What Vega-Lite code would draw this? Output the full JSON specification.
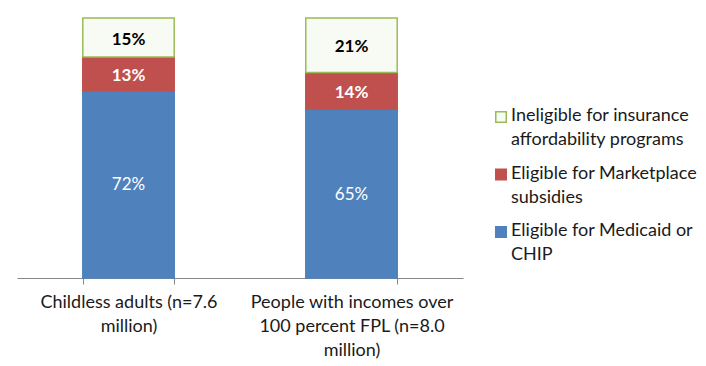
{
  "$schema": "https://vega.github.io/schema/vega-lite/v6.json",
  "width": 446,
  "height": 260,
  "autosize": {"type": "none"},
  "padding": {"left": 17, "top": 18, "right": 243, "bottom": 88},
  "background": "white",
  "config": {
    "view": {"stroke": null},
    "font": "Lato",
    "style": {"guide-label": {"lineHeight": 24}}
  },
  "data": {
    "values": [
      {"group": "Childless adults (n=7.6 million)", "category": "Eligible for Medicaid or CHIP", "value": 72, "ord": 1},
      {"group": "Childless adults (n=7.6 million)", "category": "Eligible for Marketplace subsidies", "value": 13, "ord": 2},
      {"group": "Childless adults (n=7.6 million)", "category": "Ineligible for insurance affordability programs", "value": 15, "ord": 3},
      {"group": "People with incomes over 100 percent FPL (n=8.0 million)", "category": "Eligible for Medicaid or CHIP", "value": 65, "ord": 1},
      {"group": "People with incomes over 100 percent FPL (n=8.0 million)", "category": "Eligible for Marketplace subsidies", "value": 14, "ord": 2},
      {"group": "People with incomes over 100 percent FPL (n=8.0 million)", "category": "Ineligible for insurance affordability programs", "value": 21, "ord": 3}
    ]
  },
  "transform": [
    {"stack": "value", "groupby": ["group"], "sort": [{"field": "ord", "order": "ascending"}], "as": ["v0", "v1"]},
    {"calculate": "(datum.v0 + datum.v1) / 2", "as": "mid"},
    {"calculate": "datum.value + '%'", "as": "lbl"}
  ],
  "encoding": {
    "x": {
      "field": "group", "type": "nominal", "sort": null,
      "scale": {"paddingInner": 0.59, "paddingOuter": 0.295},
      "axis": {
        "title": null,
        "labelAngle": 0,
        "labelFont": "Lato",
        "labelFontSize": 18,
        "labelColor": "#1a1a1a",
        "labelLineHeight": 24,
        "labelPadding": 9,
        "labelBaseline": "top",
        "labelLimit": 400,
        "labelExpr": "datum.value == 'Childless adults (n=7.6 million)' ? ['Childless adults (n=7.6', 'million)'] : datum.value == 'People with incomes over 100 percent FPL (n=8.0 million)' ? ['People with incomes over', '100 percent FPL (n=8.0', 'million)'] : ''",
        "domainColor": "#868686",
        "tickColor": "#868686",
        "tickSize": 6,
        "tickBand": "extent",
        "grid": false
      }
    }
  },
  "layer": [
    {
      "mark": {"type": "bar", "strokeWidth": 1.5},
      "encoding": {
        "y": {"field": "v0", "type": "quantitative", "scale": {"domain": [0, 100]}, "axis": null},
        "y2": {"field": "v1"},
        "fill": {
          "field": "category", "type": "nominal",
          "scale": {
            "domain": ["Ineligible for insurance affordability programs", "Eligible for Marketplace subsidies", "Eligible for Medicaid or CHIP"],
            "range": ["#f8fbf3", "#C0504D", "#4F81BD"]
          },
          "legend": {
            "title": null,
            "orient": "none",
            "legendX": 475,
            "legendY": 90,
            "symbolType": "square",
            "symbolSize": 110,
            "symbolStrokeWidth": 1.5,
            "labelFont": "Lato",
            "labelFontSize": 18,
            "labelColor": "#1a1a1a",
            "labelBaseline": "top",
            "labelOffset": 1,
            "labelLimit": 300,
            "rowPadding": 15.5,
            "encode": {"labels": {"update": {"dy": {"value": -10}}}},
            "labelExpr": "datum.label == 'Ineligible for insurance affordability programs' ? ['Ineligible for insurance', 'affordability programs'] : datum.label == 'Eligible for Marketplace subsidies' ? ['Eligible for Marketplace', 'subsidies'] : ['Eligible for Medicaid or', 'CHIP']"
          }
        },
        "stroke": {
          "field": "category", "type": "nominal",
          "scale": {
            "domain": ["Ineligible for insurance affordability programs", "Eligible for Marketplace subsidies", "Eligible for Medicaid or CHIP"],
            "range": ["#9BBB59", "#C0504D", "#4F81BD"]
          },
          "legend": null
        }
      }
    },
    {
      "transform": [{"filter": "datum.ord == 1"}],
      "mark": {"type": "text", "fontSize": 17, "color": "white", "baseline": "middle", "dy": 1},
      "encoding": {
        "y": {"field": "mid", "type": "quantitative", "scale": {"domain": [0, 100]}},
        "text": {"field": "lbl"}
      }
    },
    {
      "transform": [{"filter": "datum.ord != 1"}],
      "mark": {"type": "text", "fontSize": 17, "fontWeight": "bold", "baseline": "middle", "dy": 2},
      "encoding": {
        "y": {"field": "mid", "type": "quantitative", "scale": {"domain": [0, 100]}},
        "text": {"field": "lbl"},
        "color": {"condition": {"test": "datum.ord == 3", "value": "black"}, "value": "white"}
      }
    }
  ]
}
